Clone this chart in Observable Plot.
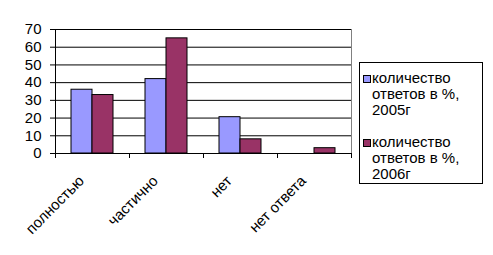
<!DOCTYPE html>
<html>
<head>
<meta charset="utf-8">
<script src="https://cdn.jsdelivr.net/npm/d3@7"></script>
<script src="https://cdn.jsdelivr.net/npm/@observablehq/plot@0.6"></script>
<style>
  html, body { margin: 0; padding: 0; background: #fff; }
  #wrap { position: relative; width: 493px; height: 255px; font-family: "Liberation Sans", Arial, sans-serif; }
  #legend { position: absolute; left: 359px; top: 62px; width: 122px; height: 120px; border: 1px solid #000; font-size: 15px; line-height: 16.2px; box-sizing: content-box; overflow: hidden; }
  .entry { position: relative; padding-left: 12px; }
  .sw { position: absolute; left: 3px; top: 5px; width: 6px; height: 6px; border: 1px solid #000; }
</style>
</head>
<body>
<div id="wrap"><div id="legend"></div></div>
<script>
const categories = ["полностью", "частично", "нет", "нет ответа"];
const series = ["количество ответов в %, 2005г", "количество ответов в %, 2006г"];
const values2005 = [36, 42, 20.5, 0];
const values2006 = [33, 65, 8, 3];
const yTicks = [0, 10, 20, 30, 40, 50, 60, 70];
const colors = ["#9999FF", "#993366"];

const data = categories.flatMap((c, i) => [
  {category: c, series: series[0], value: values2005[i]},
  {category: c, series: series[1], value: values2006[i]}
]).filter(d => d.value > 0);

const chart = Plot.plot({
  width: 493, height: 255,
  marginLeft: 54, marginRight: 142, marginTop: 29, marginBottom: 102,
  style: {fontFamily: "'Liberation Sans', Arial, sans-serif", fontSize: "15px", color: "#000", background: "#fff", overflow: "visible"},
  fx: {domain: categories, padding: 0, label: null, axis: null},
  x: {domain: series, paddingInner: 0, paddingOuter: 0.727, axis: null},
  y: {domain: [0, 70], ticks: yTicks, label: null, tickSize: 5, tickPadding: 9},
  color: {domain: series, range: colors},
  marks: [
    Plot.axisFx({anchor: "bottom", label: null, tickRotate: -45, tickSize: 0, tickPadding: 20, dx: -11, dy: 5, fontSize: 15}),
    Plot.ruleY(yTicks.filter(d => d > 0), {stroke: "#000", strokeWidth: 1}),
    Plot.barY(data, {fx: "category", x: "series", y: "value", fill: "series", stroke: "#000", strokeWidth: 1}),
    Plot.ruleY([0], {stroke: "#000"})
  ]
});
document.getElementById("wrap").prepend(chart);

// axis line, x ticks at category boundaries, right border
const svg = d3.select(chart);
const fx = chart.scale("fx"), y = chart.scale("y");
const y0 = y.apply(0), yTop = y.apply(70);
const left = fx.apply(categories[0]);
const right = fx.apply(categories[categories.length - 1]) + fx.bandwidth;
const g = svg.append("g").attr("stroke", "#000").attr("shape-rendering", "crispEdges");
g.append("line").attr("x1", left).attr("x2", left).attr("y1", yTop).attr("y2", y0);
g.append("line").attr("x1", right).attr("x2", right).attr("y1", yTop).attr("y2", y0).attr("stroke", "#808080");
categories.forEach(c => {
  const xx = fx.apply(c);
  g.append("line").attr("x1", xx).attr("x2", xx).attr("y1", y0).attr("y2", y0 + 5);
});
g.append("line").attr("x1", right).attr("x2", right).attr("y1", y0).attr("y2", y0 + 5);

// legend
const legend = d3.select("#legend");
series.forEach((s, i) => {
  const e = legend.append("div").attr("class", "entry")
    .style("margin-top", i === 0 ? "7px" : "15px");
  e.append("div").attr("class", "sw").style("background", colors[i]);
  const parts = s.split(" ");
  e.append("div").html("количество<br>ответов в %,<br>" + parts[parts.length - 1]);
});
</script>
</body>
</html>
